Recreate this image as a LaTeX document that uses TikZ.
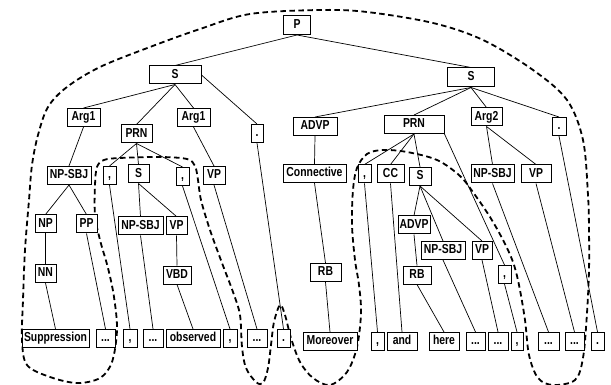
\documentclass[tikz,border=0pt]{standalone}
\usepackage{fontspec}
\setmainfont{Liberation Sans}[FakeStretch=0.8]
\begin{document}
\begin{tikzpicture}[x=1pt,y=-1pt,
  box/.style={draw, line width=1pt, fill=white, inner sep=1pt, minimum height=18pt,
    text height=9.5pt, text depth=2.6pt,
    font=\fontsize{13}{14}\selectfont\bfseries},
  edge/.style={line width=0.7pt},
  loopline/.style={line width=1.8pt, dash pattern=on 5.5pt off 3.5pt}]
\useasboundingbox (0,0) rectangle (611,385);

% dashed enclosing curve
\draw[loopline] plot[smooth cycle, tension=0.55] coordinates {
 (320,10) (250,14) (200,29) (150,47) (100,67) (67,87) (48,107) (38,135) (32,165)
 (29,200) (25,250) (23,300) (22,340) (27,365) (50,377) (77,383) (100,378) (112,362)
 (117,330) (114,297) (108,268) (100,240) (95,215) (95,185) (97,167) (104,160)
 (120,158) (160,157) (187,159) (195,166) (198,180) (201,200) (210,230) (222,263)
 (233,292) (240,315) (242,347) (246,368) (256,382) (263,383) (268,368) (271,345)
 (274,322) (280,305) (285,315) (291,338) (300,362) (313,378) (330,385) (347,372)
 (357,347) (361,313) (359,285) (355,260) (352,225) (353,190) (357,168) (367,154)
 (383,150) (407,152) (437,160) (460,176) (475,195) (490,217) (503,240) (513,262)
 (519,285) (525,320) (529,355) (538,378) (553,385) (575,380) (583,358) (587,313)
 (589,270) (589,230) (588,195) (583,140) (567,100) (533,70) (483,40) (433,23) (367,12)};

% top levels
\node[box, minimum width=27pt, minimum height=19pt] (P) at (297,25) {P};
\node[box, minimum width=52pt] (SL) at (175,75) {S};
\node[box, minimum width=47pt, minimum height=19pt] (SR) at (471,77.5) {S};

% left half
\node[box, minimum width=33pt] (A1) at (83.5,117.5) {Arg1};
\node[box, minimum width=31pt] (PRNL) at (136.5,134) {PRN};
\node[box, minimum width=33pt] (A1m) at (193.5,117.5) {Arg1};
\node[box, minimum width=12pt] (dotL) at (257,133.5) {.};
\node[box, minimum width=44pt] (NPSBJ1) at (69,175.5) {NP-SBJ};
\node[box, minimum width=13pt] (cm1) at (109.5,175.5) {,};
\node[box, minimum width=21pt] (SM) at (138.5,174) {S};
\node[box, minimum width=13pt] (cm2) at (182.5,176.5) {,};
\node[box, minimum width=22pt] (VP1) at (214,175.5) {VP};
\node[box, minimum width=21pt] (NP) at (45.5,224) {NP};
\node[box, minimum width=21pt] (PP) at (86.5,224) {PP};
\node[box, minimum width=45pt] (NPSBJ2) at (140.5,226) {NP-SBJ};
\node[box, minimum width=21pt] (VP2) at (176.5,226) {VP};
\node[box, minimum width=21pt] (NN) at (45.5,273.5) {NN};
\node[box, minimum width=28pt] (VBD) at (177,275) {VBD};

% right half
\node[box, minimum width=44pt] (ADVP1) at (315,126.5) {ADVP};
\node[box, minimum width=60pt] (PRNR) at (414,124.5) {PRN};
\node[box, minimum width=31pt] (Arg2) at (486.5,117) {Arg2};
\node[box, minimum width=14pt] (dotR) at (559,126.5) {.};
\node[box, minimum width=63pt] (Conn) at (314.5,173.5) {Connective};
\node[box, minimum width=13pt] (cm3) at (364.5,174) {,};
\node[box, minimum width=27pt] (CC) at (390.5,174) {CC};
\node[box, minimum width=22pt] (S2) at (420,176.5) {S};
\node[box, minimum width=43pt] (NPSBJ3) at (492.5,174) {NP-SBJ};
\node[box, minimum width=30pt] (VP3) at (536,174) {VP};
\node[box, minimum width=31pt] (RB1) at (325.5,272.5) {RB};
\node[box, minimum width=32pt] (ADVP2) at (414,225) {ADVP};
\node[box, minimum width=44pt] (NPSBJ4) at (443,250.5) {NP-SBJ};
\node[box, minimum width=20pt] (VP4) at (482,250.5) {VP};
\node[box, minimum width=28pt] (RB2) at (417,275) {RB};
\node[box, minimum width=13pt] (cm4) at (504.5,274.5) {,};

% leaves
\node[box, minimum width=67pt] (Supp) at (55.5,338.5) {Suppression};
\node[box, minimum width=19pt] (d1) at (105.5,338.5) {...};
\node[box, minimum width=14pt] (c1) at (130,338.5) {,};
\node[box, minimum width=20pt] (d2) at (153,338.5) {...};
\node[box, minimum width=54pt] (obs) at (193,338.5) {observed};
\node[box, minimum width=14pt] (c2) at (230,338.5) {,};
\node[box, minimum width=20pt] (d3) at (257,338.5) {...};
\node[box, minimum width=13pt] (p1) at (283.5,338.5) {.};
\node[box, minimum width=54pt] (More) at (330,341.5) {Moreover};
\node[box, minimum width=13pt] (c3) at (377.5,341.5) {,};
\node[box, minimum width=30pt] (and) at (402,341.5) {and};
\node[box, minimum width=30pt] (here) at (444,341.5) {here};
\node[box, minimum width=19pt] (d4) at (475.5,341.5) {...};
\node[box, minimum width=20pt] (d5) at (498,341.5) {...};
\node[box, minimum width=12pt] (c4) at (517,341.5) {,};
\node[box, minimum width=21pt] (d6) at (548.5,341.5) {...};
\node[box, minimum width=19pt] (d7) at (574.5,341.5) {...};
\node[box, minimum width=13pt] (p2) at (597.5,341.5) {.};

% edges
\draw[edge] (P.south) -- (SL.north);
\draw[edge] (P.south) -- (SR.north);
\draw[edge] (SL.south) -- (A1.north);
\draw[edge] (SL.south) -- (PRNL.north);
\draw[edge] (SL.south) -- (A1m.north);
\draw[edge] (SL.east) -- (dotL.north);
\draw[edge] (A1.south) -- (NPSBJ1.north);
\draw[edge] (NPSBJ1.south) -- (NP.north);
\draw[edge] (NPSBJ1.south) -- (PP.north);
\draw[edge] (NP.south) -- (NN.north);
\draw[edge] (NN.south) -- (Supp.north);
\draw[edge] (PP.south) -- (d1.north);
\draw[edge] (PRNL.south) -- (cm1.north);
\draw[edge] (PRNL.south) -- (SM.north);
\draw[edge] (PRNL.south) -- (cm2.north);
\draw[edge] (cm1.south) -- (c1.north);
\draw[edge] (SM.south) -- (NPSBJ2.north);
\draw[edge] (SM.south) -- (VP2.north);
\draw[edge] (NPSBJ2.south) -- (d2.north);
\draw[edge] (VP2.south) -- (VBD.north);
\draw[edge] (VBD.south) -- (obs.north);
\draw[edge] (cm2.south) -- (c2.north);
\draw[edge] (A1m.south) -- (VP1.north);
\draw[edge] (VP1.south) -- (d3.north);
\draw[edge] (dotL.south) -- (p1.north);
\draw[edge] (SR.south) -- (ADVP1.north);
\draw[edge] (SR.south) -- (PRNR.north);
\draw[edge] (SR.south) -- (Arg2.north);
\draw[edge] (SR.south) -- (dotR.north);
\draw[edge] (ADVP1.south) -- (Conn.north);
\draw[edge] (Conn.south) -- (RB1.north);
\draw[edge] (RB1.south) -- (More.north);
\draw[edge] (PRNR.south) -- (cm3.north);
\draw[edge] (PRNR.south) -- (CC.north);
\draw[edge] (PRNR.south) -- (S2.north);
\draw[edge] (PRNR.south east) -- (cm4.north);
\draw[edge] (cm3.south) -- (c3.north);
\draw[edge] (CC.south) -- (and.north);
\draw[edge] (S2.south) -- (ADVP2.north);
\draw[edge] (S2.south) -- (NPSBJ4.north);
\draw[edge] (S2.south) -- (VP4.north);
\draw[edge] (ADVP2.south) -- (RB2.north);
\draw[edge] (RB2.south) -- (here.north);
\draw[edge] (NPSBJ4.south) -- (d4.north);
\draw[edge] (VP4.south) -- (d5.north);
\draw[edge] (cm4.south) -- (c4.north);
\draw[edge] (Arg2.south) -- (NPSBJ3.north);
\draw[edge] (Arg2.south) -- (VP3.north);
\draw[edge] (NPSBJ3.south) -- (d6.north);
\draw[edge] (VP3.south) -- (d7.north);
\draw[edge] (dotR.south) -- (p2.north);
\end{tikzpicture}
\end{document}
